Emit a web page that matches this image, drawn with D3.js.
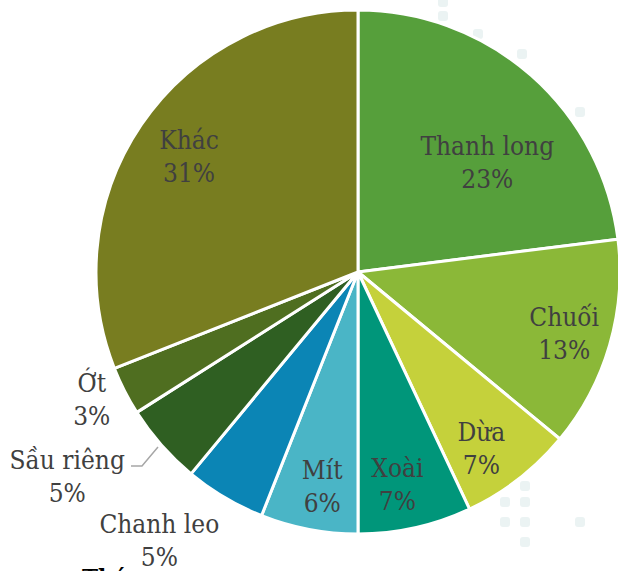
<!DOCTYPE html>
<html>
<head>
<meta charset="utf-8">
<script src="https://cdn.jsdelivr.net/npm/d3@7"></script>
<style>
  html, body { margin: 0; padding: 0; background: #fff; overflow: hidden; }
  svg { display: block; }
  .serif { font-family: "DejaVu Serif Condensed", "DejaVu Serif", serif; font-stretch: condensed; }
</style>
</head>
<body>
<svg id="chart" width="618" height="571"></svg>
<script>
// Share of each fruit (percent), clockwise from 12 o'clock
let categories = ["Thanh long", "Chuối", "Dừa", "Xoài", "Mít", "Chanh leo", "Sầu riêng", "Ớt", "Khác"];
let shares = [23, 13, 7, 7, 6, 5, 5, 3, 31];
let sliceColors = ["#569f3b", "#8bb838", "#c5d13b", "#00967a", "#4ab5c6", "#0b85b5", "#2f5f22", "#4f6e20", "#787d20"];

let svg = d3.select("#chart"),
    width = +svg.attr("width"),
    height = +svg.attr("height");

let cx = 358, cy = 272, radius = 262;

// faint dotted background squares (decoration of the source page)
let decor = [[443, 2], [443, 16], [478, 34], [522, 54], [580, 112], [525, 486],
    [505, 502], [525, 502], [505, 522], [525, 522], [525, 542], [580, 522]];
svg.append("g")
    .selectAll("rect")
    .data(decor)
    .enter()
    .append("rect")
    .attr("x", d => d[0] - 5)
    .attr("y", d => d[1] - 5)
    .attr("width", 10)
    .attr("height", 10)
    .attr("rx", 3)
    .attr("fill", "#ebf3f3");

let color = d3.scaleOrdinal().domain(categories).range(sliceColors);

let pie = d3.pie().sort(null).value(d => d.value);
let arc = d3.arc().innerRadius(0).outerRadius(radius);

let data = categories.map((c, i) => ({name: c, value: shares[i]}));

let g = svg.append("g").attr("transform", "translate(" + cx + "," + cy + ")");

g.selectAll("path")
    .data(pie(data))
    .enter()
    .append("path")
    .attr("d", arc)
    .attr("fill", d => color(d.data.name))
    .attr("stroke", "#fff")
    .attr("stroke-width", 3)
    .attr("stroke-linejoin", "round");

// label placement (polar: distance from centre, angle in degrees from 12 o'clock)
let labelPolar = {
    "Thanh long": [170, 49.5],
    "Chuối": [215, 106.5],
    "Dừa": [215, 145],
    "Xoài": [216, 169.5],
    "Mít": [217, 189.5],
    "Chanh leo": [334, 216.5],
    "Sầu riêng": [355, 235],
    "Ớt": [295, 244.5],
    "Khác": [205, 304.5]
};

let labels = g.append("g")
    .attr("class", "serif")
    .attr("font-size", 26)
    .attr("fill", "#404040")
    .attr("text-anchor", "middle");

pie(data).forEach(function (d) {
    let p = labelPolar[d.data.name];
    let pos = d3.pointRadial(p[1] * Math.PI / 180, p[0]);
    let t = labels.append("text")
        .attr("transform", "translate(" + pos[0] + "," + pos[1] + ")");
    t.append("tspan").attr("x", 0).attr("y", -7).text(d.data.name);
    t.append("tspan").attr("x", 0).attr("y", 26).text(d.data.value + "%");
});

// leader line for "Sầu riêng"
let leader = [[158, 447], [142, 466], [131, 466]];
svg.append("path")
    .attr("d", d3.line()(leader))
    .attr("fill", "none")
    .attr("stroke", "#a6a6a6")
    .attr("stroke-width", 1.5);

// cut-off caption at the bottom edge
svg.append("text")
    .attr("class", "serif")
    .attr("x", 82)
    .attr("y", 587)
    .attr("font-weight", "bold")
    .attr("font-size", 24)
    .attr("fill", "#000")
    .text("Thá");
</script>
</body>
</html>
